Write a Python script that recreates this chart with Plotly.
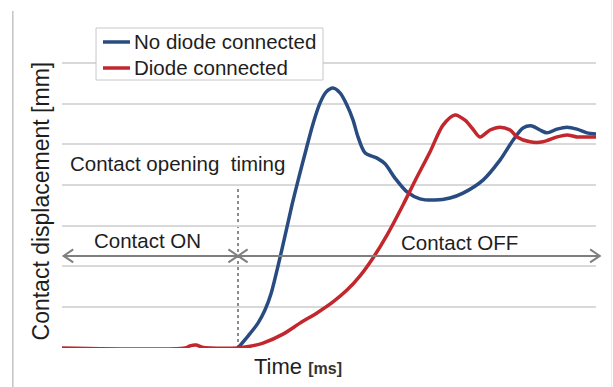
import plotly.graph_objects as go

# Contact displacement vs. time (arbitrary time units, 0..100 across the window)
t_no_diode = [32.96, 34.83, 36.70, 38.01, 39.14, 40.45, 41.76, 43.07, 44.38, 45.69,
              47.00, 48.31, 49.44, 50.75, 52.06, 53.37, 54.49, 55.43, 56.74, 58.99,
              60.49, 62.36, 64.61, 67.04, 69.85, 72.66, 75.09, 78.84, 82.02, 84.46,
              86.33, 88.01, 89.51, 90.82, 92.70, 94.57, 96.44, 98.31, 100.0]
y_no_diode = [0.00, 0.29, 0.61, 0.93, 1.33, 2.01, 2.75, 3.51, 4.20, 4.86,
              5.50, 6.01, 6.28, 6.38, 6.26, 5.96, 5.60, 5.18, 4.79, 4.66,
              4.52, 4.17, 3.83, 3.66, 3.63, 3.68, 3.80, 4.12, 4.61, 5.10,
              5.40, 5.45, 5.35, 5.28, 5.37, 5.42, 5.37, 5.28, 5.25]

t_diode = [0.0, 23.03, 23.97, 25.09, 26.22, 27.72, 32.96, 35.21, 37.64, 41.39,
           44.57, 47.75, 50.75, 53.37, 55.81, 58.24, 60.86, 63.86, 66.10, 68.91,
           71.35, 73.60, 75.47, 76.78, 78.28, 80.15, 82.02, 83.90, 85.21, 87.64,
           90.07, 92.70, 94.57, 96.44, 98.31, 100.0]
y_diode = [0.00, 0.00, 0.05, 0.07, 0.02, 0.00, 0.00, 0.04, 0.12, 0.34,
           0.61, 0.86, 1.13, 1.42, 1.77, 2.21, 2.77, 3.51, 4.10, 4.81,
           5.47, 5.72, 5.59, 5.40, 5.18, 5.35, 5.42, 5.35, 5.18, 5.06,
           5.06, 5.18, 5.23, 5.18, 5.18, 5.18]

series_names = ["No diode connected", "Diode connected"]
series_colors = ["#284b80", "#c1272d"]

t_open = 32.96          # contact opening instant
arrow_level = 2.26      # height of the ON/OFF span arrows
marker_top = 4.0        # top of the dotted opening marker

T_MAX = 100.0
Y_MAX = 8

FONT = "Liberation Sans, Arial, sans-serif"
TXT = "#1e1e1e"
ARROW = "#7f7f7f"

fig = go.Figure()
for t, y, name, color in ((t_no_diode, y_no_diode, series_names[0], series_colors[0]),
                          (t_diode, y_diode, series_names[1], series_colors[1])):
    fig.add_trace(go.Scatter(x=t, y=y, name=name, mode="lines", showlegend=False,
                             line=dict(color=color, width=3.5, shape="spline", smoothing=0.8)))

shapes = []
annotations = []

# dotted marker at the opening instant
shapes.append(dict(type="line", xref="x", yref="y", x0=t_open, x1=t_open, y0=0, y1=marker_top,
                   line=dict(color="#666666", width=1.5, dash="dot"), layer="below"))

# span arrows (paper x so the OFF arrow can run past the right edge)
def px(t):
    return t / T_MAX

head_dx = 0.018   # chevron length in paper units
head_dy = 0.16    # chevron half-height in data units

def span_arrow(x0, x1, y):
    shapes.append(dict(type="line", xref="paper", yref="y", x0=x0, x1=x1, y0=y, y1=y,
                       line=dict(color=ARROW, width=2)))
    for tip, d in ((x0, head_dx), (x1, -head_dx)):
        path = f"M{tip + d},{y + head_dy} L{tip},{y} L{tip + d},{y - head_dy}"
        shapes.append(dict(type="path", xref="paper", yref="y", path=path,
                           line=dict(color=ARROW, width=2)))

span_arrow(px(0.3), px(t_open), arrow_level)
span_arrow(px(t_open), px(100.7), arrow_level)

# outer frame lines of the figure
shapes.append(dict(type="line", xref="paper", yref="paper", x0=-0.092, x1=-0.092, y0=1.034, y1=-0.13,
                   line=dict(color="#a6a6a6", width=1)))
shapes.append(dict(type="line", xref="paper", yref="paper", x0=1.029, x1=1.029, y0=1.1, y1=-0.13,
                   line=dict(color="#ececec", width=1)))

# legend box with line samples
LEG_X0, LEG_X1, LEG_Y0, LEG_Y1 = 0.0637, 0.4888, 0.822, 0.9816
shapes.append(dict(type="rect", xref="paper", yref="paper", x0=LEG_X0, x1=LEG_X1, y0=LEG_Y0, y1=LEG_Y1,
                   fillcolor="white", line=dict(color="#c8c8c8", width=1)))
for name, color, ly in zip(series_names, series_colors, (0.9387, 0.8589)):
    shapes.append(dict(type="line", xref="paper", yref="paper", x0=0.0768, x1=0.1273, y0=ly, y1=ly,
                       line=dict(color=color, width=3.5)))
    annotations.append(dict(text=name, x=0.131, y=ly, xref="paper", yref="paper",
                            xanchor="left", yanchor="middle", showarrow=False,
                            font=dict(size=20.5, color=TXT, family=FONT)))

def label(text, x, y, size=20.5, **kw):
    annotations.append(dict(text=text, x=x, y=y, xref="paper", yref="paper",
                            xanchor="center", yanchor="middle", showarrow=False,
                            font=dict(size=size, color=TXT, family=FONT), **kw))

label("Contact opening  timing", 0.216, 0.567)
label("Contact ON", 0.161, 0.331)
label("Contact OFF", 0.745, 0.325)
label("Time <b><span style='font-size:16px;color:#333333'>[ms]</span></b>", 0.442, -0.058, size=22)
label("Contact displacement [mm]", -0.039, 0.45, size=23, textangle=-90)

fig.update_layout(
    width=613, height=387,
    margin=dict(l=62, r=17, t=22, b=39),
    paper_bgcolor="white", plot_bgcolor="white",
    font=dict(family=FONT, color=TXT),
    xaxis=dict(range=[0, T_MAX], showgrid=False, zeroline=False, showticklabels=False,
               ticks="", showline=False),
    yaxis=dict(range=[-0.001, Y_MAX + 0.001], dtick=1, tick0=0, showgrid=True, gridcolor="#d9d9d9",
               gridwidth=2, zeroline=False, showticklabels=False, ticks="", showline=False),
    shapes=shapes,
    annotations=annotations,
    showlegend=False,
)

fig.write_html("out.html")
